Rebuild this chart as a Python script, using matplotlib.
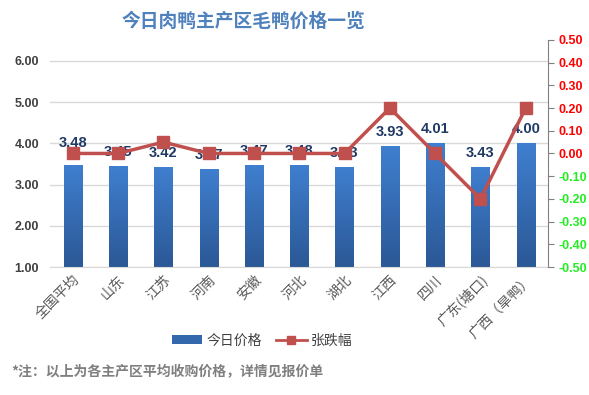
import matplotlib
matplotlib.use('Agg')
import matplotlib.pyplot as plt
import numpy as np
from matplotlib.lines import Line2D
from matplotlib.patches import Patch

plt.rcParams['font.family'] = ['Noto Sans CJK SC', 'DejaVu Sans']

regions = ['全国平均', '山东', '江苏', '河南', '安徽', '河北', '湖北', '江西', '四川', '广东(塘口)', '广西（旱鸭）']
prices = [3.48, 3.45, 3.42, 3.37, 3.47, 3.48, 3.43, 3.93, 4.01, 3.43, 4.00]
changes = [0.00, 0.00, 0.05, 0.00, 0.00, 0.00, 0.00, 0.20, 0.00, -0.20, 0.20]
left_ticks = [1, 2, 3, 4, 5, 6]
right_ticks = [-0.5, -0.4, -0.3, -0.2, -0.1, 0.0, 0.1, 0.2, 0.3, 0.4, 0.5]

num_font = ['Liberation Sans', 'DejaVu Sans']

fig = plt.figure(figsize=(5.89, 3.95), dpi=100)
ax = fig.add_axes([0.085, 0.324, 0.846, 0.575])
ax2 = ax.twinx()

x = np.arange(len(regions))

# bars with vertical gradient
grad = np.linspace(0, 1, 100).reshape(-1, 1)
cmap = matplotlib.colors.LinearSegmentedColormap.from_list('b', ['#2b5896', '#3f7fcf'])
bars = ax.bar(x, [p - 1 for p in prices], bottom=1, width=0.4, color='none', zorder=2)
for b in bars:
    x0, y0 = b.get_x(), b.get_y()
    im = ax.imshow(grad, cmap=cmap, origin='lower', aspect='auto',
                   extent=[x0, x0 + b.get_width(), y0, y0 + b.get_height()], zorder=2)
    im.set_clip_path(b)
ax.set_xlim(-0.5, len(regions) - 0.5)
ax.set_ylim(1, 6.51)

for i, p in enumerate(prices):
    off = 16 if i == 0 else 10
    ax.annotate('%.2f' % p, (x[i], p), xytext=(0, off), textcoords='offset points',
                ha='center', va='center', fontsize=10.5, fontweight='bold',
                color='#1f3864', zorder=5, family=num_font)

ax.set_yticks(left_ticks)
ax.set_yticklabels(['%.2f' % t for t in left_ticks], fontsize=9, fontweight='bold',
                   color='#404040', family=num_font)
ax.grid(axis='y', color='#d9d9d9', linewidth=1, zorder=0)
ax.set_axisbelow(True)
ax.tick_params(axis='y', length=0, pad=8)
ax.tick_params(axis='x', length=0, pad=4)
ax.set_xticks(x)
ax.set_xticklabels(regions, rotation=45, ha='right', rotation_mode='anchor',
                   fontsize=10, color='#595959')
for s in ['left', 'top', 'right']:
    ax.spines[s].set_visible(False)
ax.spines['bottom'].set_color('#d9d9d9')

ax2.plot(x, changes, color='#c0504d', linewidth=2.5, marker='s', markersize=9,
         markerfacecolor='#c0504d', markeredgecolor='#c0504d', zorder=4)
ax2.set_ylim(-0.5, 0.5)
ax2.set_yticks(right_ticks)
ax2.set_yticklabels(['%.2f' % t for t in right_ticks], fontsize=9, fontweight='bold',
                    family=num_font)
for lab, t in zip(ax2.get_yticklabels(), right_ticks):
    lab.set_color('#ff0000' if t >= 0 else '#22ee22')
ax2.tick_params(axis='y', length=4, color='#808080', pad=3)
for s in ['left', 'top', 'bottom']:
    ax2.spines[s].set_visible(False)
ax2.spines['right'].set_color('#808080')

fig.text(0.413, 0.945, '今日肉鸭主产区毛鸭价格一览', ha='center', va='center',
         fontsize=13.5, fontweight='bold', color='#4f81bd')

handles = [Patch(facecolor='#3468ad', edgecolor='none'),
           Line2D([0], [0], color='#c0504d', linewidth=2, marker='s', markersize=6)]
fig.legend(handles, ['今日价格', '张跌幅'], loc='center', bbox_to_anchor=(0.445, 0.138),
           ncol=2, frameon=False, fontsize=10, handlelength=2.2, columnspacing=1.0,
           handletextpad=0.3, labelcolor='#404040')

fig.text(0.02, 0.058, '*注：以上为各主产区平均收购价格，详情见报价单', ha='left', va='center',
         fontsize=10, fontweight='bold', color='#7f7f7f')

fig.savefig('out.png', dpi=100, facecolor='white')
